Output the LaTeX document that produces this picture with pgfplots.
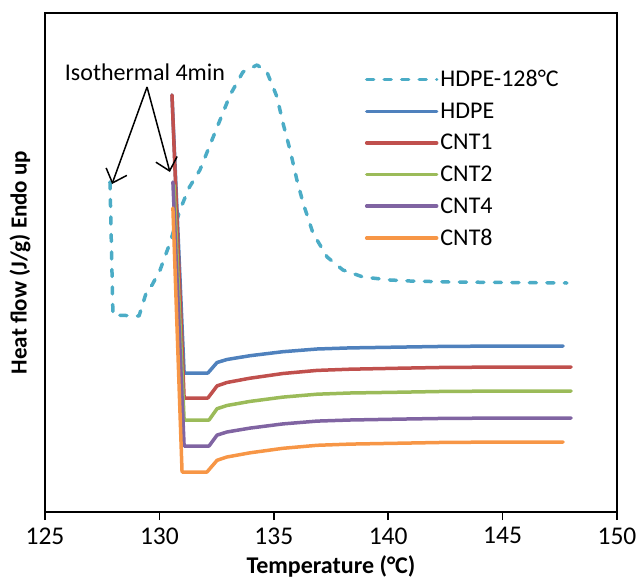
\documentclass[border=0pt]{standalone}
\usepackage{fontspec}
\setmainfont{Carlito}
\usepackage{pgfplots}
\pgfplotsset{compat=1.18}
\usetikzlibrary{arrows.meta}
\definecolor{cAqua}{HTML}{4BACC6}
\definecolor{cBlue}{HTML}{4F81BD}
\definecolor{cRed}{HTML}{C0504D}
\definecolor{cGreen}{HTML}{9BBB59}
\definecolor{cPurple}{HTML}{8064A2}
\definecolor{cOrange}{HTML}{F79646}
\begin{document}
\begin{tikzpicture}
\useasboundingbox (-45pt,-67pt) rectangle (591pt,512pt);
\begin{axis}[
  scale only axis,
  width=572pt, height=499pt,
  xmin=125, xmax=150, ymin=0, ymax=499,
  xtick={125,130,135,140,145,150},
  ytick=\empty,
  xtick pos=bottom,
  tick align=outside,
  major tick length=8pt,
  axis line style={line width=1.5pt},
  every tick/.style={black, line width=1.5pt},
  /pgf/number format/assume math mode=true,
  tick label style={font=\fontsize{25.5}{29}\selectfont},
  xticklabel style={yshift=-4pt},
  xlabel={\textbf{Temperature (°C)}},
  ylabel={\textbf{Heat flow (J/g) Endo up}},
  xlabel style={font=\fontsize{24}{28}\selectfont, at={(axis description cs:0.5,-0.110)}, anchor=center},
  ylabel style={font=\fontsize{23}{27}\selectfont, at={(axis description cs:-0.0437,0.5)}, anchor=center},
  legend style={at={(axis description cs:0.559,0.889)}, anchor=north west, draw=none, fill=none,
    font=\fontsize{24}{28}\selectfont, row sep=10.5pt, inner sep=0pt},
  legend cell align=left,
  legend image code/.code={\draw[#1] (0pt,0pt) -- (70pt,0pt);},
  every axis plot/.append style={line width=3.5pt, line join=round, line cap=round},
]
\addplot[cAqua, dash pattern=on 7pt off 10.5pt] coordinates {
(127.84,330) (127.97,197) (129.11,196) (129.46,222) (129.68,227) (130.03,242)
(130.46,269) (130.90,302) (131.29,324) (131.77,342) (132.65,392) (133.09,417)
(133.65,440) (134.27,447) (134.70,440) (135.14,415) (135.40,389) (135.71,362)
(136.01,332) (136.28,309) (136.71,279) (137.33,255) (138.02,242) (138.90,235)
(140.08,232) (140.95,231) (142.70,230) (147.81,229)
};
\addlegendentry{HDPE-128°C}
\addplot[cBlue] coordinates {
(130.55,417) (131.08,139) (132.12,139) (132.52,149.5) (132.95,152.5) (133.96,156.3)
(135.40,160.3) (136.89,163) (138.33,164.1) (140.52,164.9) (142.70,165.7) (147.64,166)
};
\addlegendentry{HDPE}
\addplot[cRed] coordinates {
(130.55,417) (131.08,114) (132.12,114) (132.52,126.1) (132.95,129.5) (133.96,133.8)
(135.40,138.5) (136.89,141.6) (138.33,142.8) (140.52,143.8) (142.70,144.7) (147.99,145)
};
\addlegendentry{CNT1}
\addplot[cGreen] coordinates {
(130.64,327) (131.08,92) (132.17,92) (132.52,103.3) (132.95,106.5) (133.96,110.6)
(135.40,114.9) (136.89,117.8) (138.33,119) (140.52,119.8) (142.70,120.7) (147.99,121)
};
\addlegendentry{CNT2}
\addplot[cPurple] coordinates {
(130.59,330) (131.08,66) (132.17,66) (132.52,76.9) (132.95,80) (133.96,83.9)
(135.40,88.1) (136.89,90.9) (138.33,92) (140.52,92.9) (142.70,93.7) (147.99,94)
};
\addlegendentry{CNT4}
\addplot[cOrange] coordinates {
(130.59,304) (130.99,40) (132.08,40) (132.52,51.7) (132.95,55) (133.96,59.2)
(135.40,63.7) (136.89,66.7) (138.33,67.9) (140.52,68.8) (142.70,69.7) (147.64,70)
};
\addlegendentry{CNT8}
\node[font=\fontsize{24}{28}\selectfont] at (axis cs:129.37,440) {Isothermal 4min};
\draw[line width=1.5pt, -{Straight Barb[length=12pt,width=22pt]}] (axis cs:129.46,425) -- (axis cs:127.93,328);
\draw[line width=1.5pt, -{Straight Barb[length=12pt,width=22pt]}] (axis cs:129.46,425) -- (axis cs:130.46,340);
\end{axis}
\end{tikzpicture}
\end{document}
